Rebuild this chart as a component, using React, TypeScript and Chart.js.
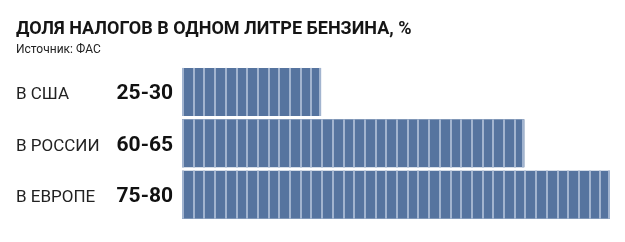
import React, { useEffect, useRef } from "react";
import { Chart, registerables } from "chart.js";

Chart.register(...registerables);

const categories = ["В США", "В РОССИИ", "В ЕВРОПЕ"];
const rangeLabels = ["25-30", "60-65", "75-80"];
const values = [26, 64, 80];
const cellStep = 2;
const axisMax = 80;

const titleText = "ДОЛЯ НАЛОГОВ В ОДНОМ ЛИТРЕ БЕНЗИНА, %";
const subtitleText = "Источник: ФАС";

const BAR_COLOR = "#56749f";
const STRIPE_COLOR = "#a2b4cf";

const stripePlugin = {
  id: "cellStripes",
  afterDatasetsDraw(chart: any) {
    const ctx = chart.ctx;
    const xs = chart.scales.x;
    const meta = chart.getDatasetMeta(0);
    ctx.save();
    ctx.fillStyle = STRIPE_COLOR;
    meta.data.forEach((bar: any, i: number) => {
      const v = values[i];
      const { y, height } = bar.getProps(["y", "height"], true);
      const top = y - height / 2;
      const n = Math.round(v / cellStep);
      for (let k = 0; k <= n; k++) {
        const px = Math.round(xs.getPixelForValue(k * cellStep));
        const w = 2;
        const left = k === n ? px - w : px;
        ctx.fillRect(left, top, w, height);
      }
    });
    ctx.restore();
  },
};

export default function App() {
  const ref = useRef<HTMLCanvasElement | null>(null);
  useEffect(() => {
    if (!ref.current) return;
    const chart = new Chart(ref.current, {
      type: "bar",
      data: {
        labels: categories,
        datasets: [
          {
            data: values,
            backgroundColor: BAR_COLOR,
            borderWidth: 0,
            barPercentage: 0.935,
            categoryPercentage: 1,
            yAxisID: "y",
          },
        ],
      },
      plugins: [stripePlugin],
      options: {
        indexAxis: "y",
        responsive: false,
        animation: false,
        events: [],
        layout: { padding: { left: 16, right: 15, top: 0, bottom: 15 } },
        plugins: {
          legend: { display: false },
          tooltip: { enabled: false },
          title: {
            display: true,
            text: titleText,
            align: "start",
            color: "#151515",
            font: { family: "Roboto", size: 18, weight: "bold", lineHeight: 1 },
            padding: { top: 20, bottom: 0 },
          },
          subtitle: {
            display: true,
            text: subtitleText,
            align: "start",
            color: "#222",
            font: { family: "Roboto", size: 12, weight: "normal", lineHeight: 1 },
            padding: { top: 5.5, bottom: 10.75 },
          },
        },
        scales: {
          x: {
            display: false,
            min: 0,
            max: axisMax,
          },
          y: {
            type: "category",
            position: "left",
            weight: 1,
            grid: { display: false, drawTicks: false },
            border: { display: false },
            ticks: {
              crossAlign: "far",
              padding: 0,
              labelOffset: 3,
              color: "#222",
              font: { family: "Roboto", size: 17, weight: "normal" },
            },
            afterFit(scale: any) {
              scale.width = 91;
            },
          },
          yv: {
            type: "category",
            labels: rangeLabels,
            position: "left",
            weight: 0,
            grid: { display: false, drawTicks: false },
            border: { display: false },
            ticks: {
              crossAlign: "near",
              padding: 9,
              labelOffset: 2,
              color: "#111",
              font: { family: "Roboto", size: 21, weight: "bold" },
            },
            afterFit(scale: any) {
              scale.width = 75;
            },
          },
        },
      } as any,
    });
    return () => chart.destroy();
  }, []);
  return (
    <div style={{ position: "absolute", left: 0, top: 0, width: 625, height: 242, background: "#fff" }}>
      <canvas ref={ref} width={625} height={242} />
    </div>
  );
}
